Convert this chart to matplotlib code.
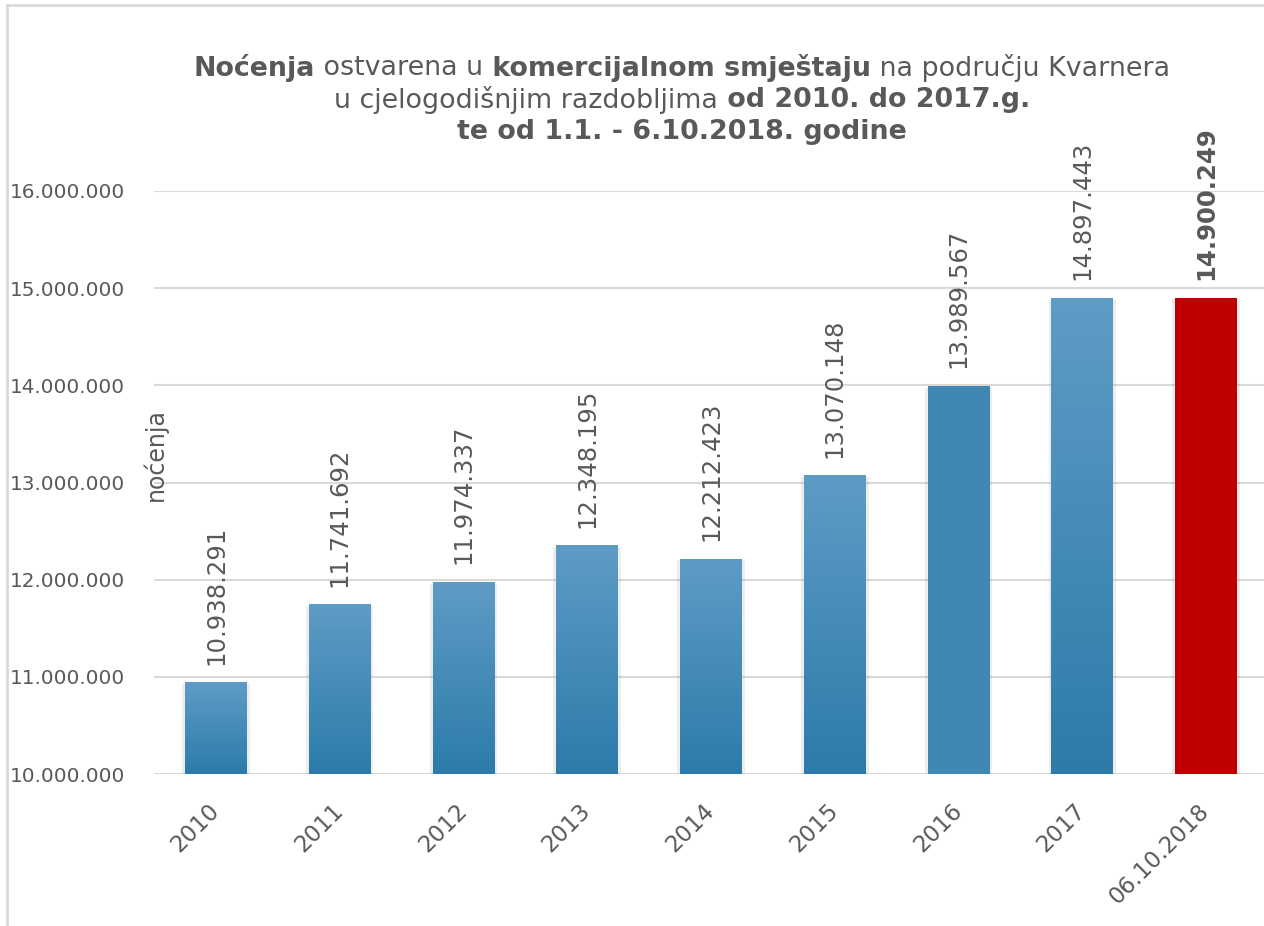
import matplotlib
matplotlib.use("Agg")
import matplotlib.pyplot as plt
import numpy as np
from matplotlib.colors import LinearSegmentedColormap
from matplotlib.lines import Line2D
from matplotlib.ticker import FuncFormatter, MultipleLocator
import matplotlib.patheffects as pe

# Data
categories = ["2010", "2011", "2012", "2013", "2014", "2015", "2016", "2017", "06.10.2018"]
nights = [10938291, 11741692, 11974337, 12348195, 12212423, 13070148, 13989567, 14897443, 14900249]
value_labels = ["10.938.291", "11.741.692", "11.974.337", "12.348.195", "12.212.423",
                "13.070.148", "13.989.567", "14.897.443", "14.900.249"]

TEXT = "#595959"
GRID = "#d9d9d9"
BLUE_TOP = "#5e9cc6"
BLUE_BOT = "#2c7baa"
FLAT_BLUE = "#3f88b2"
RED = "#c00000"

plt.rcParams["font.family"] = "DejaVu Sans"

fig = plt.figure(figsize=(12.64, 9.26), dpi=100)
ax = fig.add_axes([154 / 1264, 1 - 774 / 926, 1114 / 1264, 583 / 926])

x = np.arange(len(categories))
bars = ax.bar(x, nights, width=0.5, bottom=0, color=FLAT_BLUE, zorder=2)
# faint shadow on both sides
for b in bars:
    b.set_path_effects([
        pe.SimplePatchShadow(offset=(2, -1), shadow_rgbFace="#888888", alpha=0.15),
        pe.SimplePatchShadow(offset=(-2, -1), shadow_rgbFace="#888888", alpha=0.15),
        pe.Normal()])

# gradient fill on the blue bars (2016 is flat, the last one is red)
cmap = LinearSegmentedColormap.from_list("bluegrad", [BLUE_BOT, BLUE_TOP])
grad = np.linspace(0, 1, 256).reshape(-1, 1)
for i, b in enumerate(bars):
    if i == len(bars) - 1:
        b.set_facecolor(RED)
        continue
    if categories[i] == "2016":
        continue
    x0 = b.get_x()
    ax.imshow(grad, extent=[x0, x0 + b.get_width(), 10_000_000, b.get_height()],
              origin="lower", aspect="auto", cmap=cmap, zorder=2.1, interpolation="bilinear")

ax.set_xlim(-0.5, len(categories) - 0.5)
ax.set_ylim(10_000_000, 16_000_000)
ax.yaxis.set_major_locator(MultipleLocator(1_000_000))
ax.yaxis.set_major_formatter(FuncFormatter(lambda v, p: f"{v:,.0f}".replace(",", ".")))
ax.grid(axis="y", color=GRID, lw=1.5, zorder=0)
ax.set_axisbelow(True)
for s in ax.spines.values():
    s.set_visible(False)
ax.tick_params(axis="both", length=0, colors=TEXT)
ax.tick_params(axis="y", labelsize=14.4, pad=21)
ax.set_xticks(x)
ax.set_xticklabels(categories, rotation=45, ha="right", va="center",
                   rotation_mode="anchor", fontsize=16.5, color=TEXT)
ax.tick_params(axis="x", pad=24)

# data labels
for i, (v, lab) in enumerate(zip(nights, value_labels)):
    ax.annotate(lab, (x[i], v), xytext=(0, 18), textcoords="offset pixels",
                rotation=90, ha="center", va="bottom", fontsize=17.6, color=TEXT,
                fontweight="bold" if i == len(nights) - 1 else "normal",
                annotation_clip=False)

fig.text(155 / 1264, 1 - 455 / 926, "noćenja", rotation=90, ha="center", va="center",
         fontsize=17, color=TEXT)

# title with mixed weights, each line centered (spaces kept at segment starts)
title_lines = [
    [("Noćenja", "bold"), (" ostvarena u", "normal"), (" komercijalnom smještaju", "bold"),
     (" na području Kvarnera", "normal")],
    [("u cjelogodišnjim razdobljima", "normal"), (" od 2010. do 2017.g.", "bold")],
    [("te od 1.1. - 6.10.2018. godine", "bold")],
]
title_y = [68, 100, 132]
cx = 682
renderer = fig.canvas.get_renderer()
for segs, yy in zip(title_lines, title_y):
    texts = []
    for s, w in segs:
        t = fig.text(0, 1 - yy / 926, s, fontsize=19.4, fontweight=w, color=TEXT,
                     ha="left", va="center")
        texts.append(t)
    widths = [t.get_window_extent(renderer).width for t in texts]
    xpos = cx - sum(widths) / 2
    for t, w in zip(texts, widths):
        t.set_x(xpos / 1264)
        xpos += w

# chart border
fig.add_artist(Line2D([7 / 1264, 7 / 1264], [0, 1 - 5 / 926], color=GRID, lw=2))
fig.add_artist(Line2D([7 / 1264, 1], [1 - 5 / 926, 1 - 5 / 926], color=GRID, lw=2))

fig.savefig("out.png", dpi=100)
